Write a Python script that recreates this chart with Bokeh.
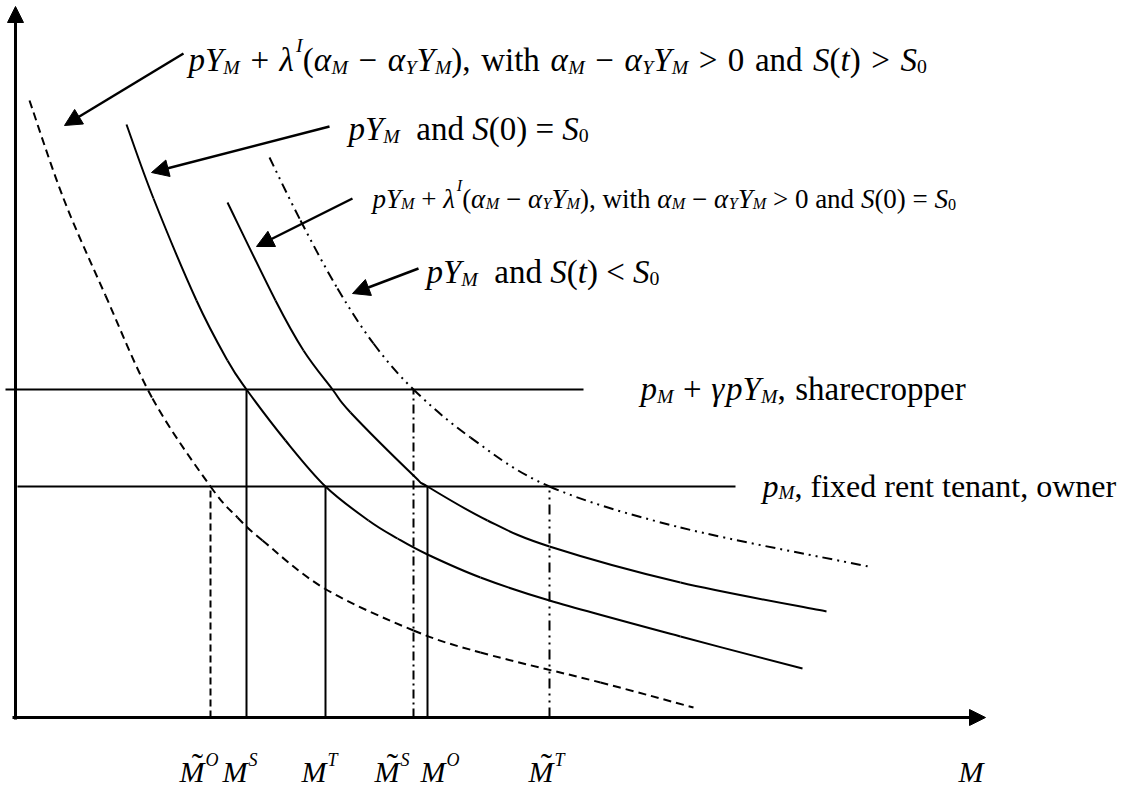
from bokeh.plotting import figure
from bokeh.models import Range1d, Arrow, NormalHead
from bokeh.core.properties import value
from bokeh.embed import file_html
from bokeh.resources import INLINE

# ---------------- data (M on x, price on y; origin at the axes' corner) ----------------
# pY_M + lambda^I(...) with S(t) > S0   (dashed, outer left)
dashed_M = [14, 48, 90, 137, 195, 222, 247, 309, 398, 465, 585, 678]
dashed_P = [617, 519, 422, 319, 231, 200, 177, 129, 87, 65, 35, 10]
# pY_M and S(0) = S0   (solid, left)
solid1_M = [111, 138, 181, 212, 231, 270, 310, 353, 382, 412, 465, 534, 665, 787]
solid1_P = [593, 519, 417, 357, 328, 277, 231, 197, 179, 163, 140, 117, 81, 49]
# pY_M + lambda^I(...) with S(0) = S0   (solid, right)
solid2_M = [212, 260, 288, 317, 335, 398, 412, 472, 534, 665, 811]
solid2_P = [515, 417, 367, 328, 305, 242, 231, 197, 171, 135, 106]
# pY_M and S(t) < S0   (dash-dot-dot)
dashdot_M = [254, 285, 322, 358, 398, 455, 534, 665, 853]
dashdot_P = [560, 497, 429, 374, 328, 280, 231, 190, 151]

# price levels
level_share = 328   # p_M + gamma pY_M, sharecropper
level_fixed = 231   # p_M, fixed rent tenant, owner

# input choices read on the M axis
M_tilde_O = 195
M_S = 231
M_T = 310
M_tilde_S = 398
M_O = 412
M_tilde_T = 534

tick_sups = ["O", "S", "T", "S", "O", "T", ""]
tick_tilde = [True, False, False, True, False, True, False]

# ---------------- figure ----------------
p = figure(width=1137, height=791, x_range=Range1d(-15, 1122), y_range=Range1d(-74, 717),
           output_backend="svg", toolbar_location=None, min_border=0,
           x_axis_type=None, y_axis_type=None)
p.grid.visible = False
p.outline_line_color = None
p.background_fill_color = "white"
p.border_fill_color = "white"

K = "black"


def smooth(xs, ys, **kw):
    """Draw a smooth curve through the given points (Catmull-Rom as cubic Beziers)."""
    n = len(xs)
    X0, Y0, X1, Y1, CX0, CY0, CX1, CY1 = ([] for _ in range(8))
    for i in range(n - 1):
        a = max(i - 1, 0)
        d = min(i + 2, n - 1)
        X0.append(xs[i]); Y0.append(ys[i]); X1.append(xs[i + 1]); Y1.append(ys[i + 1])
        CX0.append(xs[i] + (xs[i + 1] - xs[a]) / 6.0)
        CY0.append(ys[i] + (ys[i + 1] - ys[a]) / 6.0)
        CX1.append(xs[i + 1] - (xs[d] - xs[i]) / 6.0)
        CY1.append(ys[i + 1] - (ys[d] - ys[i]) / 6.0)
    p.bezier(x0=X0, y0=Y0, x1=X1, y1=Y1, cx0=CX0, cy0=CY0, cx1=CX1, cy1=CY1,
             line_color=K, **kw)


smooth(dashed_M, dashed_P, line_width=2, line_dash="8 5")
smooth(solid1_M, solid1_P, line_width=2)
smooth(solid2_M, solid2_P, line_width=2)
smooth(dashdot_M, dashdot_P, line_width=2, line_dash="10 5 2 5 2 5")

# horizontal price lines
p.segment(x0=[-10], y0=[level_share], x1=[568], y1=[level_share], line_width=2, line_color=K)
p.segment(x0=[2], y0=[level_fixed], x1=[720], y1=[level_fixed], line_width=2, line_color=K)

# verticals
p.segment(x0=[M_tilde_O], y0=[0], x1=[M_tilde_O], y1=[level_fixed], line_width=2, line_color=K, line_dash="7 4")
p.segment(x0=[M_S], y0=[0], x1=[M_S], y1=[level_share], line_width=2, line_color=K)
p.segment(x0=[M_T], y0=[0], x1=[M_T], y1=[level_fixed], line_width=2, line_color=K)
p.segment(x0=[M_tilde_S], y0=[0], x1=[M_tilde_S], y1=[level_share], line_width=2, line_color=K, line_dash="9 4 2 4")
p.segment(x0=[M_O], y0=[0], x1=[M_O], y1=[level_fixed], line_width=2, line_color=K)
p.segment(x0=[M_tilde_T], y0=[0], x1=[M_tilde_T], y1=[level_fixed], line_width=2, line_color=K, line_dash="10 5 2 5 2 5")


def arrow(xs, ys, xe, ye, lw, size):
    p.add_layout(Arrow(end=NormalHead(size=size, fill_color=K, line_color=K, line_width=1),
                       x_start=xs, y_start=ys, x_end=xe, y_end=ye,
                       line_width=lw, line_color=K))


# axes with arrow heads
arrow(0, -2, 0, 711, 3, 16)
arrow(-3, 0, 970, 0, 3, 16)

# pointer arrows
arrow(168, 664, 49, 592, 2.5, 17)
arrow(314, 591, 136, 545, 2.5, 17)
arrow(337, 519, 241, 471, 2.5, 17)
arrow(403, 449, 337, 424, 2.5, 17)

# ---------------- text layout (Times metrics) ----------------
W_R = {' ': 250, '(': 333, ')': 333, '+': 564, ',': 250, '0': 500, '=': 564, '>': 564,
       '<': 564, '\u2212': 564, 'a': 444, 'c': 444, 'd': 500, 'e': 444, 'f': 333,
       'h': 500, 'i': 278, 'n': 500, 'o': 500, 'p': 500, 'r': 333, 's': 389, 't': 278,
       'w': 722, 'x': 500}
W_I = {'p': 500, 't': 278, 'Y': 556, 'M': 833, 'S': 500, 'I': 333, 'O': 722, 'T': 556,
       '\u03b1': 540, '\u03bb': 500, '\u03b3': 450}

groups = {}
SHIFT = 9   # rendered baseline sits a little low; lift all text


def put(x, y, txt, size, style, align="left"):
    key = (round(size, 1), style, align)
    g = groups.setdefault(key, {"x": [], "y": [], "t": []})
    g["x"].append(x); g["y"].append(y + SHIFT); g["t"].append(txt)


def layout(segs, x0, y0, F, sp=250):
    x = x0
    for txt, kind in segs:
        size = 0.6 * F if kind in ("sub", "subr", "sup") else F
        style = "italic" if kind in ("i", "sub", "sup") else "normal"
        dy = {"sub": -0.22 * F, "subr": -0.22 * F, "sup": 0.45 * F}.get(kind, 0)
        table = W_I if style == "italic" else W_R
        core = txt.strip(" ")
        lead = len(txt) - len(txt.lstrip(" "))
        x += lead * sp * size / 1000
        if core:
            put(x, y0 + dy, core, size, style)
            x += sum(table.get(c, W_R.get(c, 500)) for c in core) * size / 1000
            x += core.count(" ") * (sp - 250) * size / 1000
            trail = len(txt) - len(txt.rstrip(" "))
            x += trail * sp * size / 1000
    return x


A, L, G, MINUS = "\u03b1", "\u03bb", "\u03b3", "\u2212"


def lam_part():
    return [("p", "i"), ("Y", "i"), ("M", "sub"), (" + ", "r"), (L, "i"), ("I", "sup"),
            ("(", "r"), (A, "i"), ("M", "sub"), (" " + MINUS + " ", "r"), (A, "i"), ("Y", "sub"),
            ("Y", "i"), ("M", "sub"), ("),", "r"), (" with ", "r"), (A, "i"), ("M", "sub"),
            (" " + MINUS + " ", "r"), (A, "i"), ("Y", "sub"), ("Y", "i"), ("M", "sub"),
            (" > ", "r"), ("0", "r"), (" and ", "r"), ("S", "i"), ("(", "r")]


F = 33
# label 1
layout(lam_part() + [("t", "i"), (")", "r"), (" > ", "r"), ("S", "i"), ("0", "subr")],
       173, 649, F, sp=320)
# label 2
layout([("p", "i"), ("Y", "i"), ("M", "sub"), ("  and ", "r"), ("S", "i"), ("(0)", "r"),
        (" = ", "r"), ("S", "i"), ("0", "subr")], 333, 580, F)
# label 3
layout(lam_part() + [("0)", "r"), (" = ", "r"), ("S", "i"), ("0", "subr")], 357, 510, 27)
# label 4
layout([("p", "i"), ("Y", "i"), ("M", "sub"), ("  and ", "r"), ("S", "i"), ("(", "r"),
        ("t", "i"), (")", "r"), (" < ", "r"), ("S", "i"), ("0", "subr")], 411, 437, F)
# label 5
layout([("p", "i"), ("M", "sub"), (" + ", "r"), (G, "i"), ("p", "i"), ("Y", "i"), ("M", "sub"),
        (",", "r"), (" sharecropper", "r")], 625, 320, F, sp=290)
# label 6
layout([("p", "i"), ("M", "sub"), (", fixed rent tenant, owner", "r")], 747, 223, 32)

# bottom labels
FB = 30
BASE = -63
tick_x = [164, 207, 286, 359, 405, 513, 943]
for tx, sup, til in zip(tick_x, tick_sups, tick_tilde):
    put(tx, BASE, "M", FB, "italic")
    if sup:
        put(tx + 0.833 * FB + 1, BASE + 12, sup, 18, "italic")
    if til:
        put(tx + 0.6 * FB, BASE + 6, "\u02dc", 34, "normal", align="center")

for (size, style, align), g in groups.items():
    p.text(x=g["x"], y=g["y"], text=g["t"], text_font=value("Liberation Serif"),
           text_font_size=value(f"{size}px"), text_font_style=style,
           text_baseline="alphabetic", text_align=align, text_color=K)

open("out.html", "w").write(file_html(p, INLINE))
